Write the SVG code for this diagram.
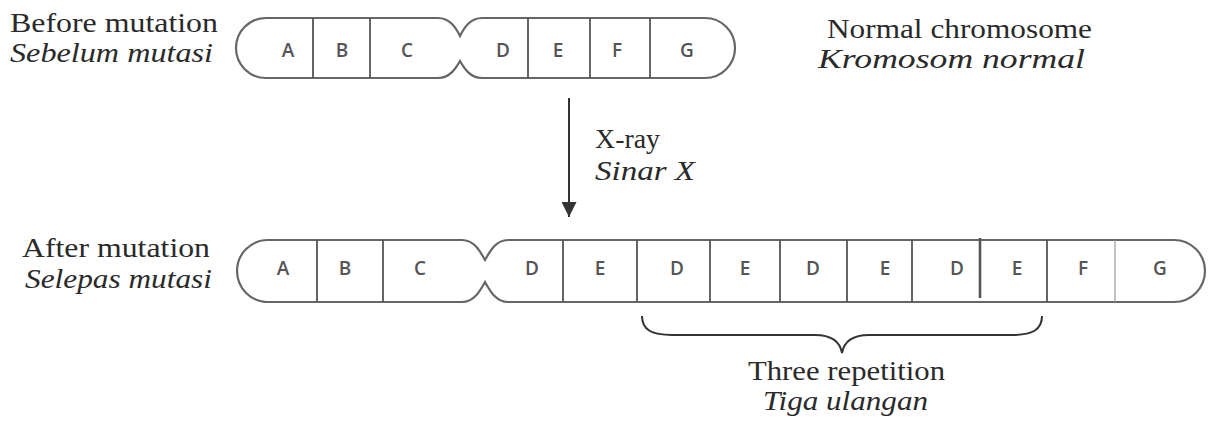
<svg xmlns="http://www.w3.org/2000/svg" width="1209" height="428" viewBox="0 0 1209 428">
  <defs>
    <style>
      .lbl { font-family: "Liberation Serif", "Times New Roman", serif; font-size: 28px; fill: #2a2a2a; }
      .it { font-style: italic; }
      .gene { font-family: "Open Sans", "Liberation Sans", sans-serif; font-size: 19px; fill: #555; text-anchor: middle; font-weight: 600; }
      .chrom { fill: #fff; stroke: #666; stroke-width: 2.2; }
      .div { stroke: #555; stroke-width: 1.8; }
      .conn { stroke: #333; stroke-width: 2; fill: none; }
    </style>
    <marker id="head" viewBox="0 0 10 10" refX="10" refY="5" markerWidth="17" markerHeight="15" markerUnits="userSpaceOnUse" orient="auto">
      <path d="M0,0 L10,5 L0,10 Z" fill="#333"/>
    </marker>
  </defs>

  <!-- side labels -->
  <g id="label-before">
    <text class="lbl" x="10" y="32" textLength="208" lengthAdjust="spacingAndGlyphs">Before mutation</text>
    <text class="lbl it" x="10" y="62" textLength="203" lengthAdjust="spacingAndGlyphs">Sebelum mutasi</text>
  </g>
  <g id="label-normal">
    <text class="lbl" x="827" y="38" textLength="265" lengthAdjust="spacingAndGlyphs">Normal chromosome</text>
    <text class="lbl it" x="818" y="68" textLength="267" lengthAdjust="spacingAndGlyphs">Kromosom normal</text>
  </g>
  <g id="label-after">
    <text class="lbl" x="22" y="257" textLength="188" lengthAdjust="spacingAndGlyphs">After mutation</text>
    <text class="lbl it" x="25" y="288" textLength="187" lengthAdjust="spacingAndGlyphs">Selepas mutasi</text>
  </g>

  <!-- normal chromosome -->
  <g id="chromosome-normal">
    <path class="chrom" d="M266,18 H438 C450,18 456,28 460,36 C464,28 470,18 482,18 H705 A30,30 0 0 1 705,78 H482 C470,78 464,68 460,61 C456,68 450,78 438,78 H266 A30,30 0 0 1 266,18 Z"/>
    <g class="div">
      <line x1="313" y1="18" x2="313" y2="78"/>
      <line x1="370" y1="18" x2="370" y2="78"/>
      <line x1="528" y1="18" x2="528" y2="78"/>
      <line x1="590" y1="18" x2="590" y2="78"/>
      <line x1="650" y1="18" x2="650" y2="78"/>
    </g>
    <text class="gene" x="288" y="57">A</text>
    <text class="gene" x="342" y="57">B</text>
    <text class="gene" x="407" y="57">C</text>
    <text class="gene" x="503" y="57">D</text>
    <text class="gene" x="558" y="57">E</text>
    <text class="gene" x="617" y="57">F</text>
    <text class="gene" x="687" y="57">G</text>
  </g>

  <!-- mutated chromosome -->
  <g id="chromosome-mutated">
    <path class="chrom" d="M268,240 H462 C474,240 480,251 485,260 C490,251 496,240 508,240 H1174 A31,31 0 0 1 1174,302 H508 C496,302 490,291 485,282 C480,291 474,302 462,302 H268 A31,31 0 0 1 268,240 Z"/>
    <g class="div">
      <line x1="317" y1="240" x2="317" y2="302"/>
      <line x1="383" y1="240" x2="383" y2="302"/>
      <line x1="563" y1="240" x2="563" y2="302"/>
      <line x1="637" y1="240" x2="637" y2="302"/>
      <line x1="710" y1="240" x2="710" y2="302"/>
      <line x1="780" y1="240" x2="780" y2="302"/>
      <line x1="847" y1="240" x2="847" y2="302"/>
      <line x1="912" y1="240" x2="912" y2="302"/>
      <line x1="980" y1="238" x2="980" y2="298" stroke-width="2.6"/>
      <line x1="1047" y1="240" x2="1047" y2="302"/>
      <line x1="1115" y1="240" x2="1115" y2="302" stroke="#999" stroke-width="1.2"/>
    </g>
    <text class="gene" x="283" y="275">A</text>
    <text class="gene" x="345" y="275">B</text>
    <text class="gene" x="420" y="275">C</text>
    <text class="gene" x="532" y="275">D</text>
    <text class="gene" x="600" y="275">E</text>
    <text class="gene" x="677" y="275">D</text>
    <text class="gene" x="745" y="275">E</text>
    <text class="gene" x="813" y="275">D</text>
    <text class="gene" x="885" y="275">E</text>
    <text class="gene" x="957" y="275">D</text>
    <text class="gene" x="1017" y="275">E</text>
    <text class="gene" x="1083" y="275">F</text>
    <text class="gene" x="1160" y="275">G</text>
  </g>

  <!-- connectors: X-ray arrow and repetition brace -->
  <g id="connectors">
    <line class="conn" x1="569" y1="98" x2="569" y2="217" marker-end="url(#head)"/>
    <path class="conn" stroke-width="1.8" d="M642,316 C642,330 652,335 672,335 H815 C832,335 840,342 842,353 C844,342 852,335 869,335 H1012 C1032,335 1042,330 1042,316"/>
  </g>

  <g id="label-xray">
    <text class="lbl" x="595" y="148" textLength="65" lengthAdjust="spacingAndGlyphs">X-ray</text>
    <text class="lbl it" x="595" y="180" textLength="100" lengthAdjust="spacingAndGlyphs">Sinar X</text>
  </g>
  <g id="label-repetition">
    <text class="lbl" x="748" y="380" textLength="197" lengthAdjust="spacingAndGlyphs">Three repetition</text>
    <text class="lbl it" x="763" y="410" textLength="165" lengthAdjust="spacingAndGlyphs">Tiga ulangan</text>
  </g>
</svg>
